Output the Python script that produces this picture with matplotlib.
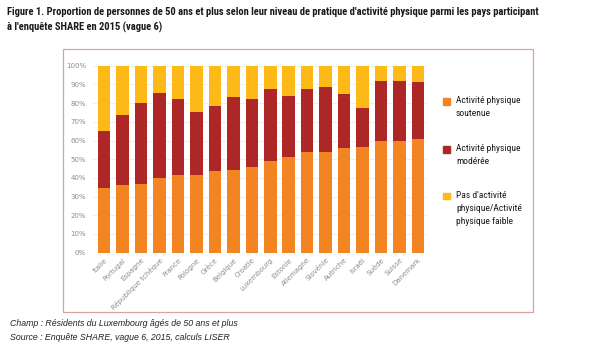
import matplotlib
matplotlib.use("Agg")
import matplotlib.pyplot as plt
import numpy as np
from matplotlib import font_manager
from matplotlib.patches import Rectangle

countries = ["Italie", "Portugal", "Espagne", "République tchèque", "France", "Pologne",
             "Grèce", "Belgique", "Croatie", "Luxembourg", "Estonie", "Allemagne",
             "Slovénie", "Autriche", "Israël", "Suède", "Suisse", "Danemark"]
soutenue = [34.4, 36.0, 36.7, 40.0, 41.8, 41.8, 43.5, 44.3, 45.9, 49.1, 51.1, 53.6,
            54.1, 55.9, 56.3, 59.5, 59.9, 60.9]
moderee_cum = [65.2, 73.8, 80.3, 85.3, 82.1, 75.1, 78.3, 83.2, 82.4, 87.3, 83.9, 87.3,
               88.7, 85.1, 77.2, 91.8, 91.8, 91.2]
labels = ["Activité physique\nsoutenue", "Activité physique\nmodérée",
          "Pas d'activité\nphysique/Activité\nphysique faible"]

C_ORANGE = "#f28522"
C_RED = "#ae2727"
C_YELLOW = "#fdb918"

# pick a condensed face if one is installed, otherwise Liberation Sans
names = {f.name for f in font_manager.fontManager.ttflist}
NARROW = "Liberation Sans"
for cand in ["Liberation Sans Narrow", "Roboto Condensed", "Open Sans Condensed",
             "DejaVu Sans Condensed"]:
    if cand in names:
        NARROW = cand
        break

soutenue = np.array(soutenue)
moderee = np.array(moderee_cum) - soutenue
faible = 100 - np.array(moderee_cum)

fig = plt.figure(figsize=(6, 3.5), dpi=100)
ax = fig.add_axes([0.155, 1 - 252.7 / 350, 0.557, (252.7 - 65.7) / 350])

x = np.arange(len(countries))
w = 0.68
ax.bar(x, soutenue, w, color=C_ORANGE, zorder=2)
ax.bar(x, moderee, w, bottom=soutenue, color=C_RED, zorder=2)
ax.bar(x, faible, w, bottom=soutenue + moderee, color=C_YELLOW, zorder=2)

ax.set_xlim(-0.6, 17.5)
ax.set_ylim(0, 100)
ax.set_yticks(np.arange(0, 101, 10))
ax.set_yticklabels([f"{v}%" for v in range(0, 101, 10)], fontsize=5, color="#8c8c8c")
ax.set_xticks(x)
ax.set_xticklabels(countries, rotation=45, ha="right", rotation_mode="anchor",
                   fontsize=5, color="#8c8c8c")
ax.tick_params(length=0, pad=3)
ax.tick_params(axis="y", pad=5)
ax.yaxis.grid(True, color="#ececec", linewidth=0.6, zorder=0)
for s in ax.spines.values():
    s.set_visible(False)

# legend, drawn by hand so the squares line up with the first line of text
leg_y = [101, 149, 196]
for c, lab, yy in zip((C_ORANGE, C_RED, C_YELLOW), labels, leg_y):
    fig.patches.append(Rectangle((443 / 600, 1 - (yy + 3.5) / 350), 6.5 / 600, 6.5 / 350,
                                 transform=fig.transFigure, color=c))
    fig.text(456 / 600, 1 - (yy - 5) / 350, lab, family=NARROW, fontsize=6.8,
             va="top", ha="left", color="#1a1a1a", linespacing=1.55)

fig.patches.append(Rectangle((63.3 / 600, 1 - 311.7 / 350), 470 / 600, 262.4 / 350,
                             transform=fig.transFigure, fill=False,
                             edgecolor="#d8a2a2", linewidth=0.9))

t1 = fig.text(7 / 600, 1 - 12 / 350,
              "Figure 1. Proportion de personnes de 50 ans et plus selon leur niveau de pratique "
              "d'activité physique parmi les pays participant",
              family=NARROW, fontweight="bold", fontsize=7.6, va="center", color="#1a1a1a")
t2 = fig.text(7 / 600, 1 - 27 / 350, "à l'enquête SHARE en 2015 (vague 6)",
              family=NARROW, fontweight="bold", fontsize=7.6, va="center", color="#1a1a1a")

# shrink the title so the first line spans the same width as in the reference
r = fig.canvas.get_renderer()
width = t1.get_window_extent(r).width
if width > 578:
    fs = 7.6 * 578 / width
    t1.set_fontsize(fs)
    t2.set_fontsize(fs)

fig.text(10 / 600, 1 - 324 / 350, "Champ : Résidents du Luxembourg âgés de 50 ans et plus",
         family="Liberation Sans", style="italic", fontsize=6.3, va="center", color="#222222")
fig.text(10 / 600, 1 - 337 / 350, "Source : Enquête SHARE, vague 6, 2015, calculs LISER",
         family="Liberation Sans", style="italic", fontsize=6.3, va="center", color="#222222")

fig.savefig("out.png", dpi=100)
